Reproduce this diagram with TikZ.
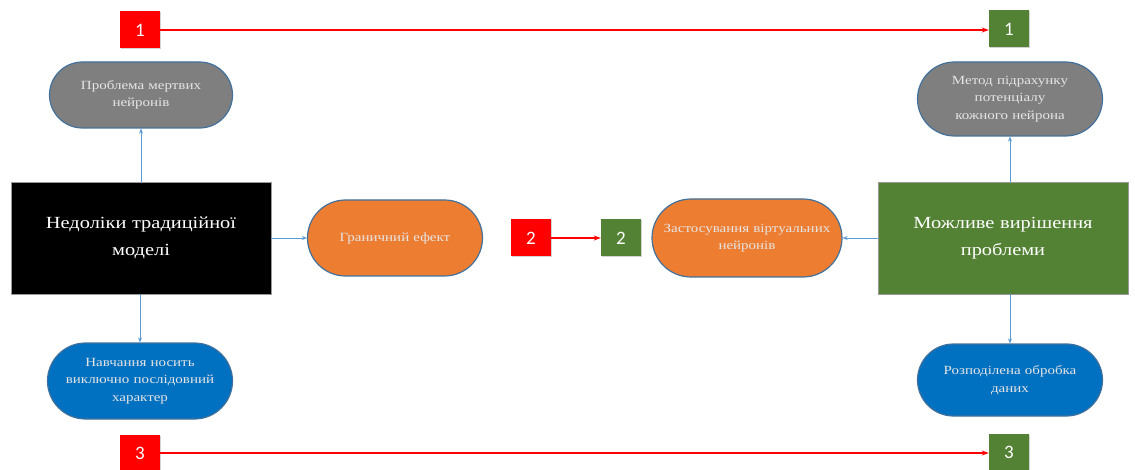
\documentclass[tikz,border=0pt]{standalone}
\usepackage{fontspec}
\setmainfont{Liberation Serif}
\newfontfamily\widefont[FakeStretch=1.2]{Liberation Serif}
\newfontfamily\numfont{Carlito}
\usetikzlibrary{arrows.meta,shadows}
\definecolor{pillline}{HTML}{41719C}
\definecolor{conncol}{HTML}{5B9BD5}
\definecolor{grayfill}{HTML}{7F7F7F}
\definecolor{orangefill}{HTML}{ED7D31}
\definecolor{bluefill}{HTML}{0070C0}
\definecolor{greenfill}{HTML}{548235}
\definecolor{redfill}{HTML}{FF0000}
\begin{document}
\begin{tikzpicture}[x=1pt,y=-1pt,
  pill/.style={draw=pillline, line width=1.2pt, text=white!90!black, align=center,
    font=\widefont\fontsize{12.5}{17.5}\selectfont, inner sep=0pt, text width=#1},
  pill/.default=175pt,
  bigbox/.style={draw=black!40, line width=0.6pt, text=white, align=center,
    font=\widefont\fontsize{17}{27}\selectfont, inner sep=0pt, text width=240pt},
  numbox/.style={fill=#1, minimum width=40pt, minimum height=37pt, inner sep=0pt,
    text=white, font=\numfont\fontsize{19}{20}\selectfont,
    drop shadow={shadow xshift=1pt, shadow yshift=-1pt, opacity=0.35}},
  conn/.style={draw=conncol, line width=0.8pt, -{Stealth[length=5pt,width=4pt]}},
  redconn/.style={draw=redfill, line width=1.1pt, -{Stealth[length=7pt,width=5pt]}}]
\useasboundingbox (0,0) rectangle (1135,470);

% central blocks
\node[bigbox, fill=black, minimum width=260pt, minimum height=112pt] (flaws) at (141,238)
  {Недоліки традиційної\\ моделі};
\node[bigbox, fill=greenfill, minimum width=250pt, minimum height=112pt] (solution) at (1003,238)
  {Можливе вирішення\\ проблеми};

% problem side
\node[pill, fill=grayfill, minimum width=183pt, minimum height=66pt, rounded corners=33pt] (dead) at (141,95)
  {Проблема мертвих\\ нейронів};
\node[pill, fill=orangefill, minimum width=175pt, minimum height=76pt, rounded corners=38pt] (edge) at (395,238)
  {Граничний ефект};
\node[pill, fill=bluefill, minimum width=185pt, minimum height=76pt, rounded corners=38pt] (seq) at (140,381)
  {Навчання носить\\ виключно послідовний\\ характер};

% solution side
\node[pill, fill=grayfill, minimum width=185pt, minimum height=74pt, rounded corners=37pt] (potential) at (1010,99)
  {Метод підрахунку\\ потенціалу\\ кожного нейрона};
\node[pill=190pt, fill=orangefill, minimum width=185pt, minimum height=78pt, rounded corners=39pt] (virtual) at (747,238)
  {Застосування віртуальних\\ нейронів};
\node[pill, fill=bluefill, minimum width=185pt, minimum height=72pt, rounded corners=36pt] (distrib) at (1010,380)
  {Розподілена обробка\\ даних};

% connectors from the central blocks
\draw[conn] (flaws.north -| dead.south) -- (dead.south);
\draw[conn] (flaws.east) -- (edge.west);
\draw[conn] (flaws.south -| seq.north) -- (seq.north);
\draw[conn] (solution.north -| potential.south) -- (potential.south);
\draw[conn] (solution.west) -- (virtual.east);
\draw[conn] (solution.south -| distrib.north) -- (distrib.north);

% numbered markers
\node[numbox=redfill] (r1) at (140,30) {1};
\node[numbox=greenfill] (g1) at (1009,29) {1};
\node[numbox=redfill] (r2) at (531,238) {2};
\node[numbox=greenfill] (g2) at (621,238) {2};
\node[numbox=redfill] (r3) at (140,453) {3};
\node[numbox=greenfill] (g3) at (1009,452) {3};

\draw[redconn] (r1.east) -- (r1.east -| g1.west);
\draw[redconn] (r2.east) -- (g2.west);
\draw[redconn] (r3.east) -- (r3.east -| g3.west);
\end{tikzpicture}
\end{document}
